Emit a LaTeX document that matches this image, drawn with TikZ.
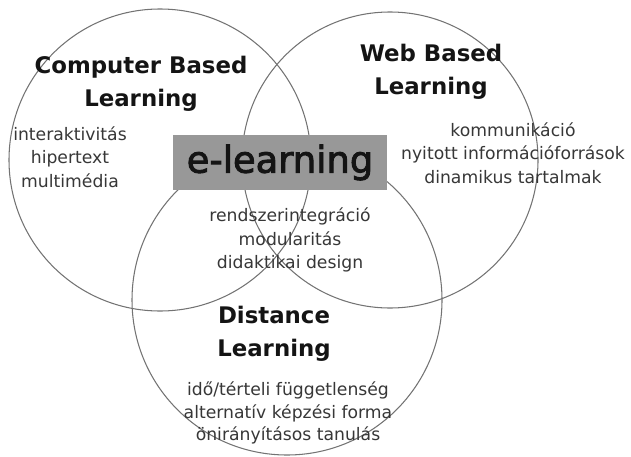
\documentclass[tikz,border=0pt]{standalone}
\usepackage{fontspec}
\setmainfont{DejaVu Sans}
\usetikzlibrary{positioning}
\definecolor{ringGray}{RGB}{115, 115, 115}
\definecolor{boxGray}{RGB}{152, 152, 152}
\definecolor{textDark}{RGB}{20, 20, 20}
\definecolor{textSoft}{RGB}{55, 55, 55}

\begin{document}
\begin{tikzpicture}[
    x=0.02cm, y=-0.02cm,
    ring/.style={
        draw=ringGray,
        line width=0.6pt
    },
    heading/.style={
        align=center,
        font=\fontsize{13}{18.8}\selectfont\bfseries,
        text=textDark,
        inner sep=0pt
    },
    keywords/.style={
        align=center,
        font=\fontsize{9.8}{13.4}\selectfont,
        text=textSoft,
        inner sep=0pt
    },
    centerbox/.style={
        rectangle,
        fill=boxGray,
        minimum width=214*0.02cm,
        minimum height=55*0.02cm,
        font=\fontsize{21}{24}\selectfont\addfontfeatures{FakeBold=2.5},
        text=textDark
    }
]
\useasboundingbox (0,0) rectangle (631,456);

% Three overlapping circles
\draw[ring] (160,160) circle (151*0.02cm);
\draw[ring] (390,160) circle (148*0.02cm);
\draw[ring] (287,300) circle (155*0.02cm);

% Centre label
\node[centerbox] (elearn) at (280,162.5) {e-learning};

% Circle headings
\node[heading] (cbl) at (141,84) {Computer Based\\Learning};
\node[heading] (wbl) at (431,72) {Web Based\\Learning};
\node[heading] (dl) at (274,334) {Distance\\Learning};

% Keywords
\node[keywords] (cblkw) at (70,157) {interaktivitás\\hipertext\\multimédia};
\node[keywords] (wblkw) at (513,153) {kommunikáció\\nyitott információforrások\\dinamikus tartalmak};
\node[keywords] (midkw) at (290,240) {rendszerintegráció\\modularitás\\didaktikai design};
\node[keywords, font=\fontsize{9.8}{12.6}\selectfont] (dlkw) at (288,413) {idő/térteli függetlenség\\alternatív képzési forma\\önirányításos tanulás};

\end{tikzpicture}
\end{document}
